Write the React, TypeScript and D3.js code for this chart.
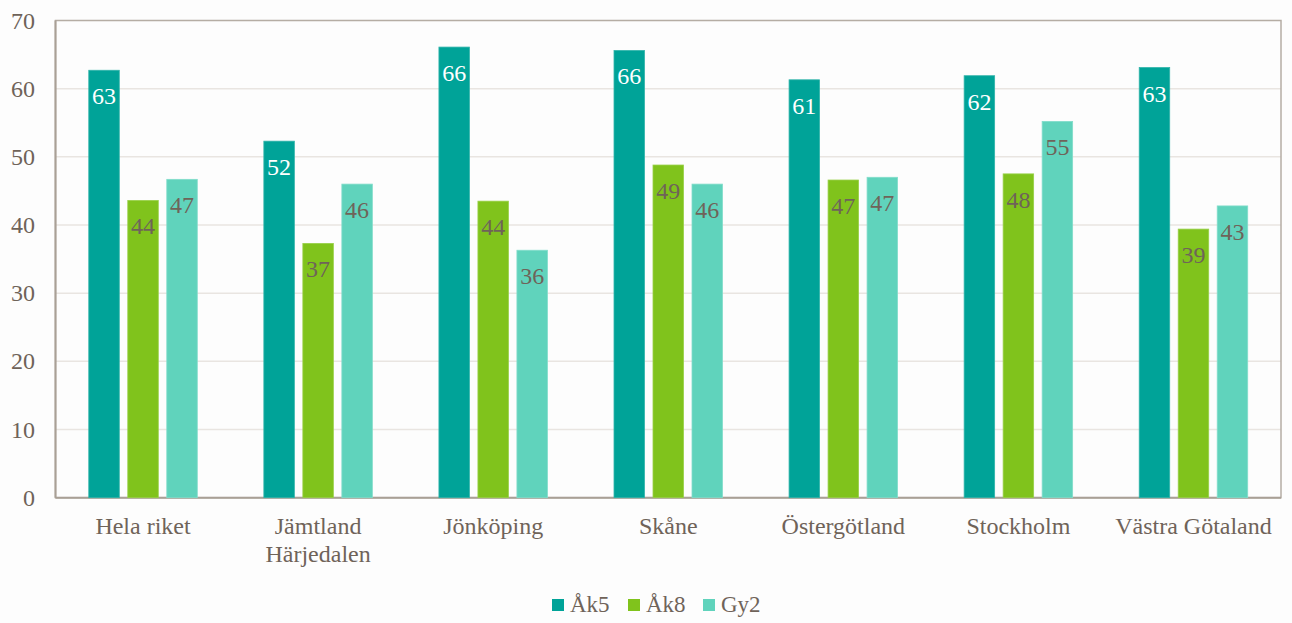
import React from "react";
import * as d3 from "d3";

const categories: string[][] = [
  ["Hela riket"],
  ["Jämtland", "Härjedalen"],
  ["Jönköping"],
  ["Skåne"],
  ["Östergötland"],
  ["Stockholm"],
  ["Västra Götaland"],
];
const seriesNames = ["Åk5", "Åk8", "Gy2"];
const ak5 = [62.7, 52.3, 66.1, 65.6, 61.3, 61.9, 63.1];
const ak8 = [43.6, 37.3, 43.5, 48.8, 46.6, 47.5, 39.4];
const gy2 = [46.7, 46.0, 36.3, 46.0, 47.0, 55.2, 42.8];
const yTicks = [0, 10, 20, 30, 40, 50, 60, 70];

const colors = ["#00a398", "#80c31c", "#60d3bc"];
const edgeColors = ["#30b4aa", "#98d048", "#82ddcb"];
const labelColors = ["#ffffff", "#6f6359", "#6f6359"];
const textColor = "#6f6359";
const font = "'Liberation Serif', 'Times New Roman', serif";

export default function App() {
  const W = 1292, H = 623;
  const left = 55.5, right = 1281, top = 20.5, bottom = 497.7;
  const series = [ak5, ak8, gy2];
  const keys = categories.map((c) => c.join(" "));
  const x = d3.scaleBand<string>().domain(keys).range([left, right]).padding(0);
  const groupW = 108.5;
  const xs = d3
    .scaleBand<string>()
    .domain(seriesNames)
    .range([-groupW / 2, groupW / 2])
    .paddingInner(0.218)
    .paddingOuter(0);
  const y = d3.scaleLinear().domain([0, 70]).range([bottom, top]);
  const fmt = d3.format(".0f");

  return (
    <svg
      width={W}
      height={H}
      style={{ position: "absolute", left: 0, top: 0, background: "#fdfdfd" }}
      fontFamily={font}
    >
      {yTicks.slice(1, -1).map((t) => (
        <line key={t} x1={left} x2={right} y1={y(t)} y2={y(t)} stroke="#e9e5e1" strokeWidth={1.5} />
      ))}
      <rect x={left} y={top} width={right - left} height={bottom - top} fill="none" stroke="#b5ada4" strokeWidth={1.5} />
      <line x1={left} x2={left} y1={top} y2={bottom} stroke="#a9a096" strokeWidth={2} />
      <line x1={left} x2={right} y1={bottom} y2={bottom} stroke="#a9a096" strokeWidth={2} />
      {yTicks.map((t) => (
        <text key={t} x={35} y={y(t) + 8} textAnchor="end" fontSize={24} fill={textColor}>
          {t}
        </text>
      ))}
      {keys.map((k, i) => {
        const cx = (x(k) as number) + x.bandwidth() / 2;
        return (
          <g key={k}>
            {series.map((s, j) => {
              const bx = cx + (xs(seriesNames[j]) as number);
              const by = y(s[i]);
              return (
                <g key={j}>
                  <rect
                    x={bx}
                    y={by}
                    width={xs.bandwidth()}
                    height={bottom - by}
                    fill={colors[j]}
                    stroke={edgeColors[j]}
                    strokeWidth={0.8}
                  />
                  <text
                    x={bx + xs.bandwidth() / 2}
                    y={by + 34}
                    textAnchor="middle"
                    fontSize={24}
                    fill={labelColors[j]}
                  >
                    {fmt(s[i])}
                  </text>
                </g>
              );
            })}
            {categories[i].map((line, li) => (
              <text key={li} x={cx} y={534 + li * 28} textAnchor="middle" fontSize={24} fill={textColor}>
                {line}
              </text>
            ))}
          </g>
        );
      })}
      {seriesNames.map((n, j) => {
        const lx = [552, 628, 703][j];
        return (
          <g key={n}>
            <rect x={lx} y={599} width={12} height={12} fill={colors[j]} />
            <text x={lx + 18} y={612} fontSize={23} fill={textColor}>
              {n}
            </text>
          </g>
        );
      })}
    </svg>
  );
}
